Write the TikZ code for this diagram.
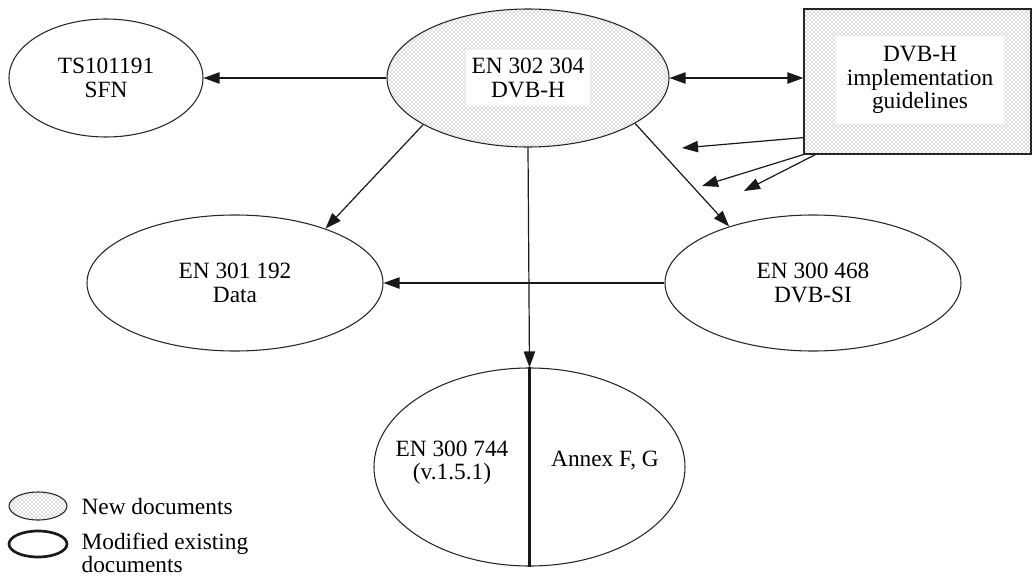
\documentclass[tikz,border=0pt]{standalone}
\usepackage{fontspec}
\setmainfont{Liberation Serif}
\usetikzlibrary{arrows.meta,patterns,calc,shapes.geometric}
\tikzset{
  doc/.style={ellipse, draw=black!85, line width=0.8pt, inner sep=0pt},
  newdoc/.style={doc, pattern=crosshatch dots, pattern color=black!60},
  txt/.style={align=center, inner sep=1pt, font=\fontsize{17.5}{17.5}\selectfont, text=black},
  whitetxt/.style={txt, fill=white, inner xsep=4pt, inner ysep=6pt},
  conn/.style={draw=black!90, line width=0.9pt, -{Triangle[length=12pt,width=8.5pt]}},
  biconn/.style={draw=black!90, line width=0.9pt, {Triangle[length=12pt,width=8.5pt]}-{Triangle[length=12pt,width=8.5pt]}}
}
\begin{document}
\begin{tikzpicture}[x=0.75pt,y=-0.75pt]
\useasboundingbox (0,0) rectangle (1033,578);
% nodes
\node[doc, minimum width=194*0.75pt, minimum height=118*0.75pt] (ts) at (106,78) {};
\node[txt] (tst) at (ts.center) {TS101191\\SFN};
\node[newdoc, minimum width=282*0.75pt, minimum height=138*0.75pt] (en302) at (528,78) {};
\node[whitetxt] (en302t) at (en302.center) {EN 302 304\\DVB-H};
\node[rectangle, draw=black!85, line width=0.9pt, pattern=crosshatch dots, pattern color=black!60,
      minimum width=227*0.75pt, minimum height=145*0.75pt, inner sep=0pt] (guide) at (917.5,81.5) {};
\node[whitetxt, inner xsep=8pt, inner ysep=8pt] (guidet) at (920,80) {DVB-H\\implementation\\guidelines};
\node[doc, minimum width=296*0.75pt, minimum height=136*0.75pt] (en301) at (235,283) {};
\node[txt] (en301t) at (en301.center) {EN 301 192\\Data};
\node[doc, minimum width=296*0.75pt, minimum height=136*0.75pt] (en468) at (813,283) {};
\node[txt] (en468t) at (en468.center) {EN 300 468\\DVB-SI};
\node[doc, minimum width=311*0.75pt, minimum height=198*0.75pt] (en744) at (529.5,467) {};
\draw[black!90, line width=2.2pt] (en744.north) -- (en744.south);
\node[txt] (en744t) at (452,463) {EN 300 744\\(v.1.5.1)};
\node[txt] (annex) at (605,461) {Annex F, G};
% connectors
\draw[conn] (en302.west) -- (ts.east);
\draw[biconn] (en302.east) -- (en302.east -| guide.west);
\draw[conn] (en302.204) -- (en301.31);
\draw[conn] (en302.337) -- (en468.146);
\draw[conn] (en302.south) -- (en744.north);
\draw[conn] (en468.west) -- (en301.east);
\coordinate (g1) at (682,148);
\coordinate (g2) at (702,186);
\coordinate (g3) at (744,191);
\draw[conn] ($(guide.south west)+(0,-17)$) -- (g1);
\draw[conn] (guide.south west) -- (g2);
\draw[conn] ($(guide.south west)+(12,0)$) -- (g3);
% legend
\node[newdoc, minimum width=58*0.75pt, minimum height=28*0.75pt] (lnew) at (38,506) {};
\node[txt, anchor=west] (lnewt) at (80,507) {New documents};
\node[ellipse, draw=black!90, line width=2pt, minimum width=58*0.75pt, minimum height=26*0.75pt, inner sep=0pt] (lmod) at (38,544) {};
\node[txt, anchor=west, align=left] (lmodt) at (80,553) {Modified existing\\documents};
\end{tikzpicture}
\end{document}
